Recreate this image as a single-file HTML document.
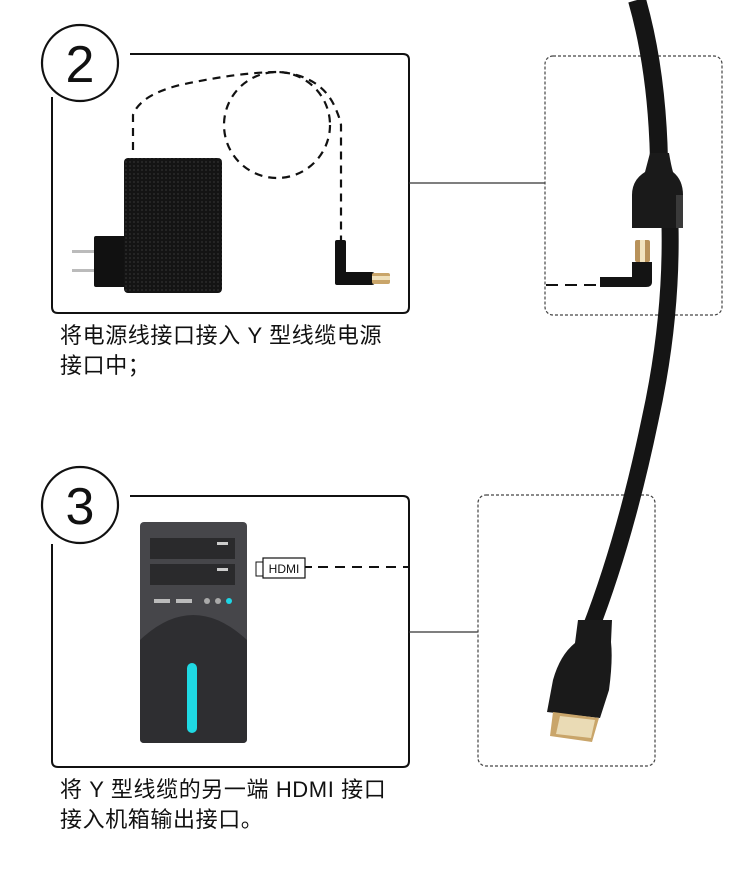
<!DOCTYPE html>
<html><head><meta charset="utf-8"><style>
html,body{margin:0;padding:0;background:#fff;width:750px;height:883px;overflow:hidden}
.t{position:absolute;left:60px;font-family:"Liberation Sans","Noto Sans CJK SC",sans-serif;font-size:22px;color:#111;line-height:30px;letter-spacing:0.6px}
</style></head><body>
<svg width="750" height="883" style="position:absolute;left:0;top:0">
<defs>
<pattern id="dots" width="4" height="4" patternUnits="userSpaceOnUse"><rect width="4" height="4" fill="#141414"/><circle cx="2" cy="2" r="1" fill="#2a2a2a"/></pattern>
</defs>
<path d="M130 54 H403 Q409 54 409 60 V307 Q409 313 403 313 H58 Q52 313 52 307 V97" fill="none" stroke="#111" stroke-width="2"/>
<circle cx="80" cy="63" r="38" fill="#fff" stroke="#111" stroke-width="2.2"/>
<text x="80" y="82" text-anchor="middle" font-family="Liberation Sans,sans-serif" font-size="52" fill="#111">2</text>
<path d="M133 150 V115 Q140 95 180 85 Q240 72 280 72 Q320 76 334 105 Q340 118 341 125 V240" fill="none" stroke="#111" stroke-width="2.2" stroke-dasharray="8,6"/>
<circle cx="277" cy="125" r="53" fill="none" stroke="#111" stroke-width="2.2" stroke-dasharray="8,6"/>
<rect x="72" y="250" width="23" height="3" fill="#bbb"/>
<rect x="72" y="269" width="23" height="3" fill="#bbb"/>
<rect x="94" y="236" width="32" height="51" rx="2" fill="#111"/>
<rect x="124" y="158" width="98" height="135" rx="4" fill="url(#dots)"/>
<rect x="335" y="240" width="11" height="45" rx="2" fill="#111"/>
<rect x="335" y="272" width="40" height="13" rx="3" fill="#111"/>
<rect x="372" y="273" width="18" height="11" rx="2" fill="#c9a56a"/>
<rect x="372" y="276" width="18" height="4" fill="#efe0bb"/>
<path d="M130 496 H403 Q409 496 409 502 V761 Q409 767 403 767 H58 Q52 767 52 761 V544" fill="none" stroke="#111" stroke-width="2"/>
<circle cx="80" cy="505" r="38" fill="#fff" stroke="#111" stroke-width="2.2"/>
<text x="80" y="524" text-anchor="middle" font-family="Liberation Sans,sans-serif" font-size="52" fill="#111">3</text>
<rect x="140" y="522" width="107" height="221" rx="4" fill="#46464a"/>
<path d="M140 640 Q193 590 247 640 V739 Q247 743 243 743 H144 Q140 743 140 739 Z" fill="#2e2e31"/>
<rect x="150" y="538" width="85" height="21" fill="#2a2a2c"/>
<rect x="150" y="564" width="85" height="21" fill="#2a2a2c"/>
<rect x="217" y="542" width="11" height="3" fill="#ccc"/>
<rect x="217" y="568" width="11" height="3" fill="#ccc"/>
<rect x="154" y="599" width="16" height="4" fill="#bbb"/>
<rect x="176" y="599" width="16" height="4" fill="#bbb"/>
<circle cx="207" cy="601" r="3" fill="#aaa"/>
<circle cx="218" cy="601" r="3" fill="#aaa"/>
<circle cx="229" cy="601" r="3" fill="#1ed6e6"/>
<rect x="187" y="663" width="10" height="70" rx="5" fill="#1fd9e3"/>
<rect x="256" y="562" width="8" height="14" fill="#fff" stroke="#111" stroke-width="1"/>
<rect x="263" y="558" width="42" height="20" fill="#fff" stroke="#111" stroke-width="1.2"/>
<text x="284" y="573" text-anchor="middle" font-family="Liberation Sans,sans-serif" font-size="12" fill="#111">HDMI</text>
<line x1="305" y1="567" x2="312" y2="567" stroke="#111" stroke-width="2"/>
<line x1="318" y1="567" x2="409" y2="567" stroke="#111" stroke-width="2" stroke-dasharray="10,7"/>
<line x1="409" y1="183" x2="545" y2="183" stroke="#333" stroke-width="1.2"/>
<line x1="409" y1="632" x2="478" y2="632" stroke="#333" stroke-width="1.2"/>
<rect x="545" y="56" width="177" height="259" rx="8" fill="none" stroke="#444" stroke-width="1.2" stroke-dasharray="3,2"/>
<rect x="478" y="495" width="177" height="271" rx="8" fill="none" stroke="#444" stroke-width="1.2" stroke-dasharray="3,2"/>
<line x1="546" y1="285" x2="600" y2="285" stroke="#111" stroke-width="2" stroke-dasharray="12,7"/>
<path d="M637 0 Q657 70 659 160" fill="none" stroke="#151515" stroke-width="18"/>
<path d="M670 225 Q672 320 650 420 Q625 540 590 630" fill="none" stroke="#151515" stroke-width="17"/>
<path d="M650 153 H669 Q671 165 673 172 Q683 180 683 195 V228 H632 V195 Q632 180 645 172 Z" fill="#1a1a1a"/>
<rect x="676" y="195" width="7" height="33" fill="#3a3a3a"/>
<rect x="635" y="240" width="15" height="22" rx="2" fill="#b8925a"/>
<rect x="640" y="240" width="5" height="22" fill="#f2e4c0"/>
<path d="M632 262 H652 V282 Q652 287 646 287 H600 V277 H632 Z" fill="#141414"/>
<path d="M578 620 H612 L611 642 Q613 660 609 690 L600 718 L547 712 L553 680 Q560 655 575 643 Z" fill="#1a1a1a"/>
<path d="M553 712 L599 718 L592 742 L550 736 Z" fill="#c9a56a"/>
<path d="M560 716 L595 720 L591 738 L556 734 Z" fill="#eadbb5"/>
</svg>
<div class="t" style="top:321px">将电源线接口接入 Y 型线缆电源<br>接口中；</div>
<div class="t" style="top:775px">将 Y 型线缆的另一端 HDMI 接口<br>接入机箱输出接口。</div>
</body></html>
